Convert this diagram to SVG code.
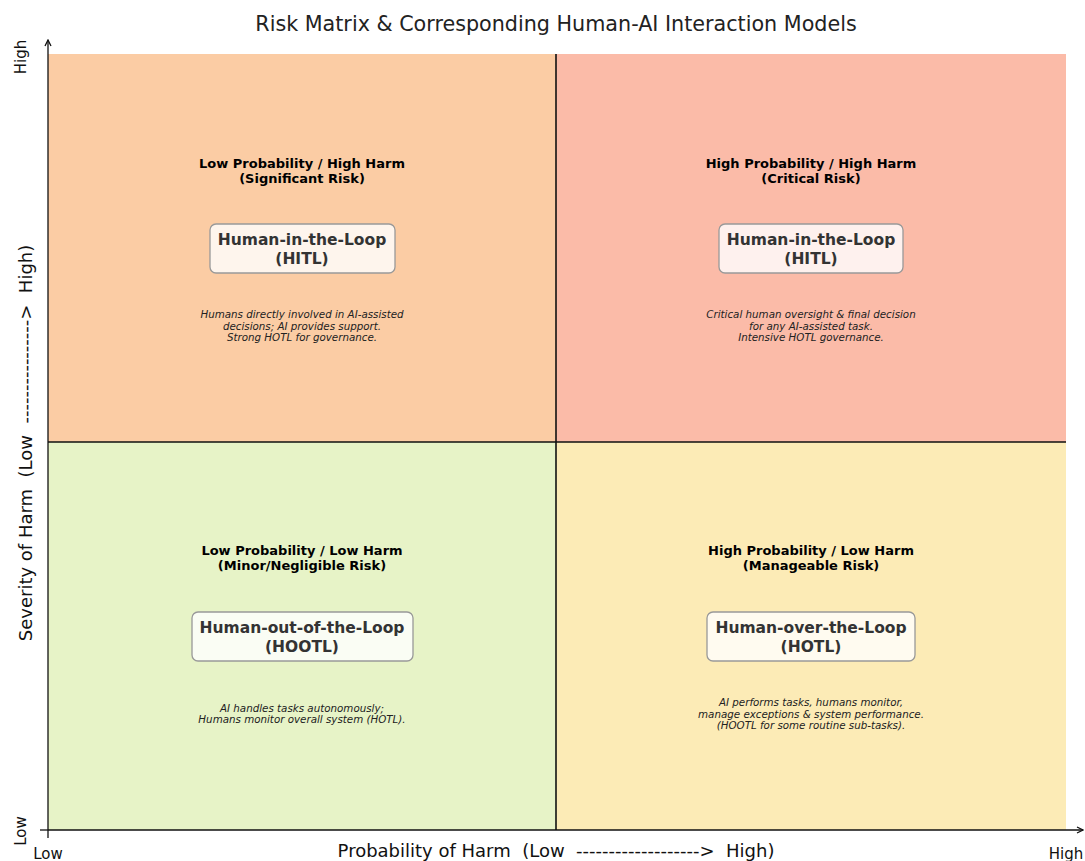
<svg xmlns="http://www.w3.org/2000/svg" width="1085" height="861" viewBox="0 0 1085 861">
  <style>
    text { font-family: "DejaVu Sans", "Liberation Sans", sans-serif; white-space: pre; }
    .title { font-size: 20.7px; fill: #222; }
    .head { font-size: 13px; font-weight: bold; fill: #000; text-anchor: middle; }
    .model { font-size: 15.5px; font-weight: bold; fill: #333; text-anchor: middle; }
    .desc { font-size: 10.3px; font-style: italic; fill: #222; text-anchor: middle; }
    .box { fill: #ffffff; fill-opacity: 0.8; stroke: #999; stroke-width: 1.3; }
    .axlab { font-size: 18px; fill: #111; }
    .tick { font-size: 15px; fill: #111; }
    .axis { stroke: #111; stroke-width: 1.3; fill: none; }
    .div { stroke: #111; stroke-width: 1.6; }
  </style>
  <defs>
    <marker id="arrow" markerWidth="8" markerHeight="8" refX="7" refY="4" orient="auto" markerUnits="userSpaceOnUse">
      <path d="M1,1 L7,4 L1,7" fill="none" stroke="#111" stroke-width="1.3"/>
    </marker>
  </defs>
  <rect width="1085" height="861" fill="#ffffff"/>

  <text class="title" x="556" y="31" text-anchor="middle">Risk Matrix &amp; Corresponding Human-AI Interaction Models</text>

  <!-- quadrant fills -->
  <g id="quadrants">
    <rect x="48" y="54" width="508" height="388" fill="#fbcca4"/>
    <rect x="556" y="54" width="510" height="388" fill="#fbbba8"/>
    <rect x="48" y="442" width="508" height="388" fill="#e7f3c7"/>
    <rect x="556" y="442" width="510" height="388" fill="#fcebb6"/>
  </g>

  <g id="dividers">
    <line class="div" x1="556" y1="54" x2="556" y2="830"/>
    <line class="div" x1="48" y1="442" x2="1066" y2="442"/>
  </g>

  <!-- top-left: low probability / high harm -->
  <g id="q-low-high">
    <text class="head" x="302" y="168">Low Probability / High Harm</text>
    <text class="head" x="302" y="183">(Significant Risk)</text>
    <rect class="box" x="210" y="224" width="185" height="49" rx="6"/>
    <text class="model" x="302" y="245">Human-in-the-Loop</text>
    <text class="model" x="302" y="264">(HITL)</text>
    <text class="desc" x="302" y="318">Humans directly involved in AI-assisted</text>
    <text class="desc" x="302" y="330">decisions; AI provides support.</text>
    <text class="desc" x="302" y="341">Strong HOTL for governance.</text>
  </g>

  <!-- top-right: high probability / high harm -->
  <g id="q-high-high">
    <text class="head" x="811" y="168">High Probability / High Harm</text>
    <text class="head" x="811" y="183">(Critical Risk)</text>
    <rect class="box" x="719" y="224" width="184" height="49" rx="6"/>
    <text class="model" x="811" y="245">Human-in-the-Loop</text>
    <text class="model" x="811" y="264">(HITL)</text>
    <text class="desc" x="811" y="318">Critical human oversight &amp; final decision</text>
    <text class="desc" x="811" y="330">for any AI-assisted task.</text>
    <text class="desc" x="811" y="341">Intensive HOTL governance.</text>
  </g>

  <!-- bottom-left: low probability / low harm -->
  <g id="q-low-low">
    <text class="head" x="302" y="555">Low Probability / Low Harm</text>
    <text class="head" x="302" y="570">(Minor/Negligible Risk)</text>
    <rect class="box" x="192" y="612" width="221" height="49" rx="6"/>
    <text class="model" x="302" y="633">Human-out-of-the-Loop</text>
    <text class="model" x="302" y="652">(HOOTL)</text>
    <text class="desc" x="302" y="712">AI handles tasks autonomously;</text>
    <text class="desc" x="302" y="723">Humans monitor overall system (HOTL).</text>
  </g>

  <!-- bottom-right: high probability / low harm -->
  <g id="q-high-low">
    <text class="head" x="811" y="555">High Probability / Low Harm</text>
    <text class="head" x="811" y="570">(Manageable Risk)</text>
    <rect class="box" x="707" y="612" width="208" height="49" rx="6"/>
    <text class="model" x="811" y="633">Human-over-the-Loop</text>
    <text class="model" x="811" y="652">(HOTL)</text>
    <text class="desc" x="811" y="706">AI performs tasks, humans monitor,</text>
    <text class="desc" x="811" y="718">manage exceptions &amp; system performance.</text>
    <text class="desc" x="811" y="729">(HOOTL for some routine sub-tasks).</text>
  </g>

  <!-- axes -->
  <g id="axes">
    <line class="axis" x1="48" y1="830" x2="48" y2="40" marker-end="url(#arrow)"/>
    <line class="axis" x1="48" y1="830" x2="1083" y2="830" marker-end="url(#arrow)"/>
    <line class="axis" x1="48" y1="830" x2="48" y2="838"/>
    <line class="axis" x1="40" y1="830" x2="48" y2="830"/>
    <text class="tick" x="48" y="859" text-anchor="middle">Low</text>
    <text class="tick" x="1066" y="859" text-anchor="middle">High</text>
    <text class="tick" transform="translate(26,831) rotate(-90)" text-anchor="middle">Low</text>
    <text class="tick" transform="translate(26,57) rotate(-90)" text-anchor="middle">High</text>
    <text class="axlab" x="556" y="857" text-anchor="middle">Probability of Harm  (Low  ------------------->  High)</text>
    <text class="axlab" transform="translate(32,443) rotate(-90)" text-anchor="middle">Severity of Harm  (Low  ---------------->  High)</text>
  </g>
</svg>
